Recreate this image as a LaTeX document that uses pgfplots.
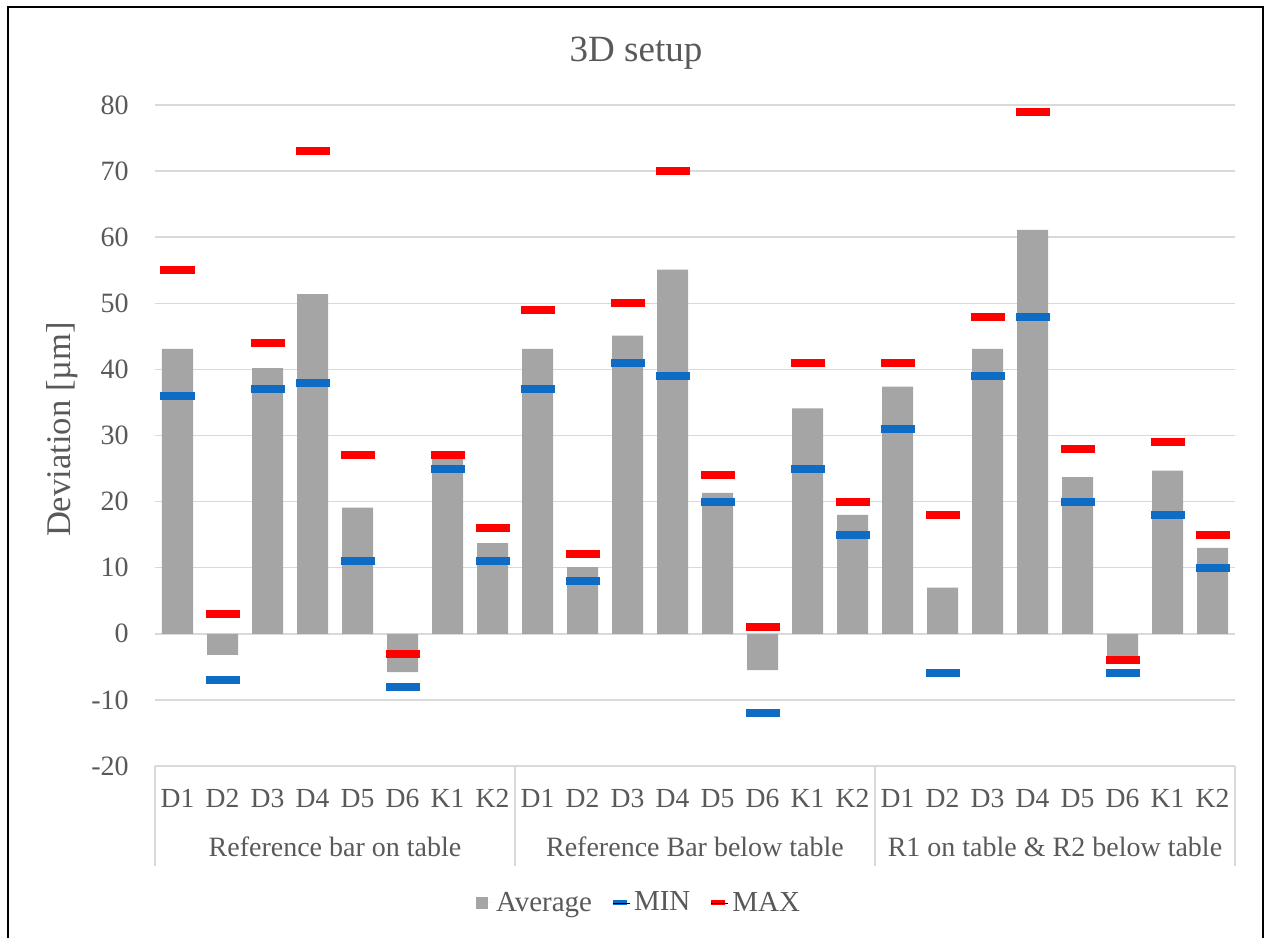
\documentclass[border=0pt]{standalone}
\usepackage{fontspec}
\setmainfont{Liberation Serif}
\usepackage{pgfplots}
\pgfplotsset{compat=1.18}
\definecolor{txt}{HTML}{595959}
\definecolor{gridc}{HTML}{D9D9D9}
\definecolor{barg}{HTML}{A5A5A5}
\definecolor{minc}{HTML}{0E6CC4}
\definecolor{maxc}{HTML}{FF0000}
\begin{document}
\begin{tikzpicture}
\useasboundingbox (0,0) rectangle (633pt,469pt);
\draw[line width=1pt, black] (4pt,0) -- (4pt,465.5pt) -- (631.5pt,465.5pt) -- (631.5pt,0);
\node[anchor=base, text=txt, font=\fontsize{18.5}{22}\selectfont] at (318pt,438pt) {3D setup};
\begin{axis}[
  at={(77.5pt,86pt)}, anchor=south west,
  scale only axis, width=540pt, height=330.5pt,
  xmin=-0.5, xmax=23.5, ymin=-20, ymax=80,
  ytick={-20,-10,...,80},
  xtick={0,...,23},
  xticklabels={D1,D2,D3,D4,D5,D6,K1,K2,D1,D2,D3,D4,D5,D6,K1,K2,D1,D2,D3,D4,D5,D6,K1,K2},
  /pgf/number format/assume math mode=true,
  ymajorgrids, grid style={gridc, line width=0.75pt},
  axis line style={draw=none},
  tick style={draw=none},
  clip=false,
  yticklabel shift=13pt,
  yticklabel style={font=\fontsize{14}{16}\selectfont, text=txt, anchor=east, inner sep=0pt},
  xticklabel style={font=\fontsize{13.8}{16}\selectfont, text=txt, anchor=base, inner sep=0pt, yshift=-21pt},
  every axis y label/.style={at={(axis description cs:0,0.5)}, xshift=-46.5pt, yshift=3pt, rotate=90, anchor=center, font=\fontsize{17.3}{20}\selectfont, text=txt},
  ylabel={Deviation [µm]},
  legend style={at={(axis description cs:0.5,0)}, anchor=center, xshift=-27.5pt, yshift=-68.5pt, draw=none, fill=none, font=\fontsize{14.5}{17}\selectfont, text=txt, legend columns=-1, /tikz/every even column/.append style={column sep=7pt}},
]
\addplot[ybar, bar width=15.5pt, fill=barg, draw=none,
  legend image code/.code={\fill[barg] (0pt,-3pt) rectangle (6pt,3pt); \path (0pt,0pt) -- (8pt,0pt);}]
coordinates {
(0,43.1) (1,-3.2) (2,40.2) (3,51.4) (4,19.1) (5,-5.8) (6,26.7) (7,13.7)
(8,43.1) (9,10.1) (10,45.1) (11,55.1) (12,21.3) (13,-5.5) (14,34.1) (15,18.0)
(16,37.4) (17,7.0) (18,43.1) (19,61.1) (20,23.7) (21,-4.5) (22,24.7) (23,13.0)
};
\addlegendentry{Average}
\addplot[only marks, mark=-, mark size=8.5pt, mark options={minc, line width=4pt},
  legend image code/.code={\draw[minc, line width=2.5pt] (0pt,0pt) -- (7pt,0pt); \path (0pt,0pt) -- (8.5pt,0pt);}]
coordinates {
(0,36) (1,-7) (2,37) (3,38) (4,11) (5,-8) (6,25) (7,11)
(8,37) (9,8) (10,41) (11,39) (12,20) (13,-12) (14,25) (15,15)
(16,31) (17,-6) (18,39) (19,48) (20,20) (21,-6) (22,18) (23,10)
};
\addlegendentry{MIN}
\addplot[only marks, mark=-, mark size=8.5pt, mark options={maxc, line width=4pt},
  legend image code/.code={\draw[maxc, line width=2.5pt] (0pt,0pt) -- (7pt,0pt); \path (0pt,0pt) -- (8.5pt,0pt);}]
coordinates {
(0,55) (1,3) (2,44) (3,73) (4,27) (5,-3) (6,27) (7,16)
(8,49) (9,12) (10,50) (11,70) (12,24) (13,1) (14,41) (15,20)
(16,41) (17,18) (18,48) (19,79) (20,28) (21,-4) (22,29) (23,15)
};
\addlegendentry{MAX}
\foreach \xx in {-0.5,7.5,15.5,23.5} {
  \edef\tmp{\noexpand\draw[gridc, line width=0.75pt] (axis cs:\xx,-20) -- ([yshift=-50pt]axis cs:\xx,-20);}
  \tmp
}
\node[anchor=base, text=txt, font=\fontsize{14}{16}\selectfont] at ([yshift=-45.5pt]axis cs:3.5,-20) {Reference bar on table};
\node[anchor=base, text=txt, font=\fontsize{14}{16}\selectfont] at ([yshift=-45.5pt]axis cs:11.5,-20) {Reference Bar below table};
\node[anchor=base, text=txt, font=\fontsize{14}{16}\selectfont] at ([yshift=-45.5pt]axis cs:19.5,-20) {R1 on table \& R2 below table};
\end{axis}
\end{tikzpicture}
\end{document}
